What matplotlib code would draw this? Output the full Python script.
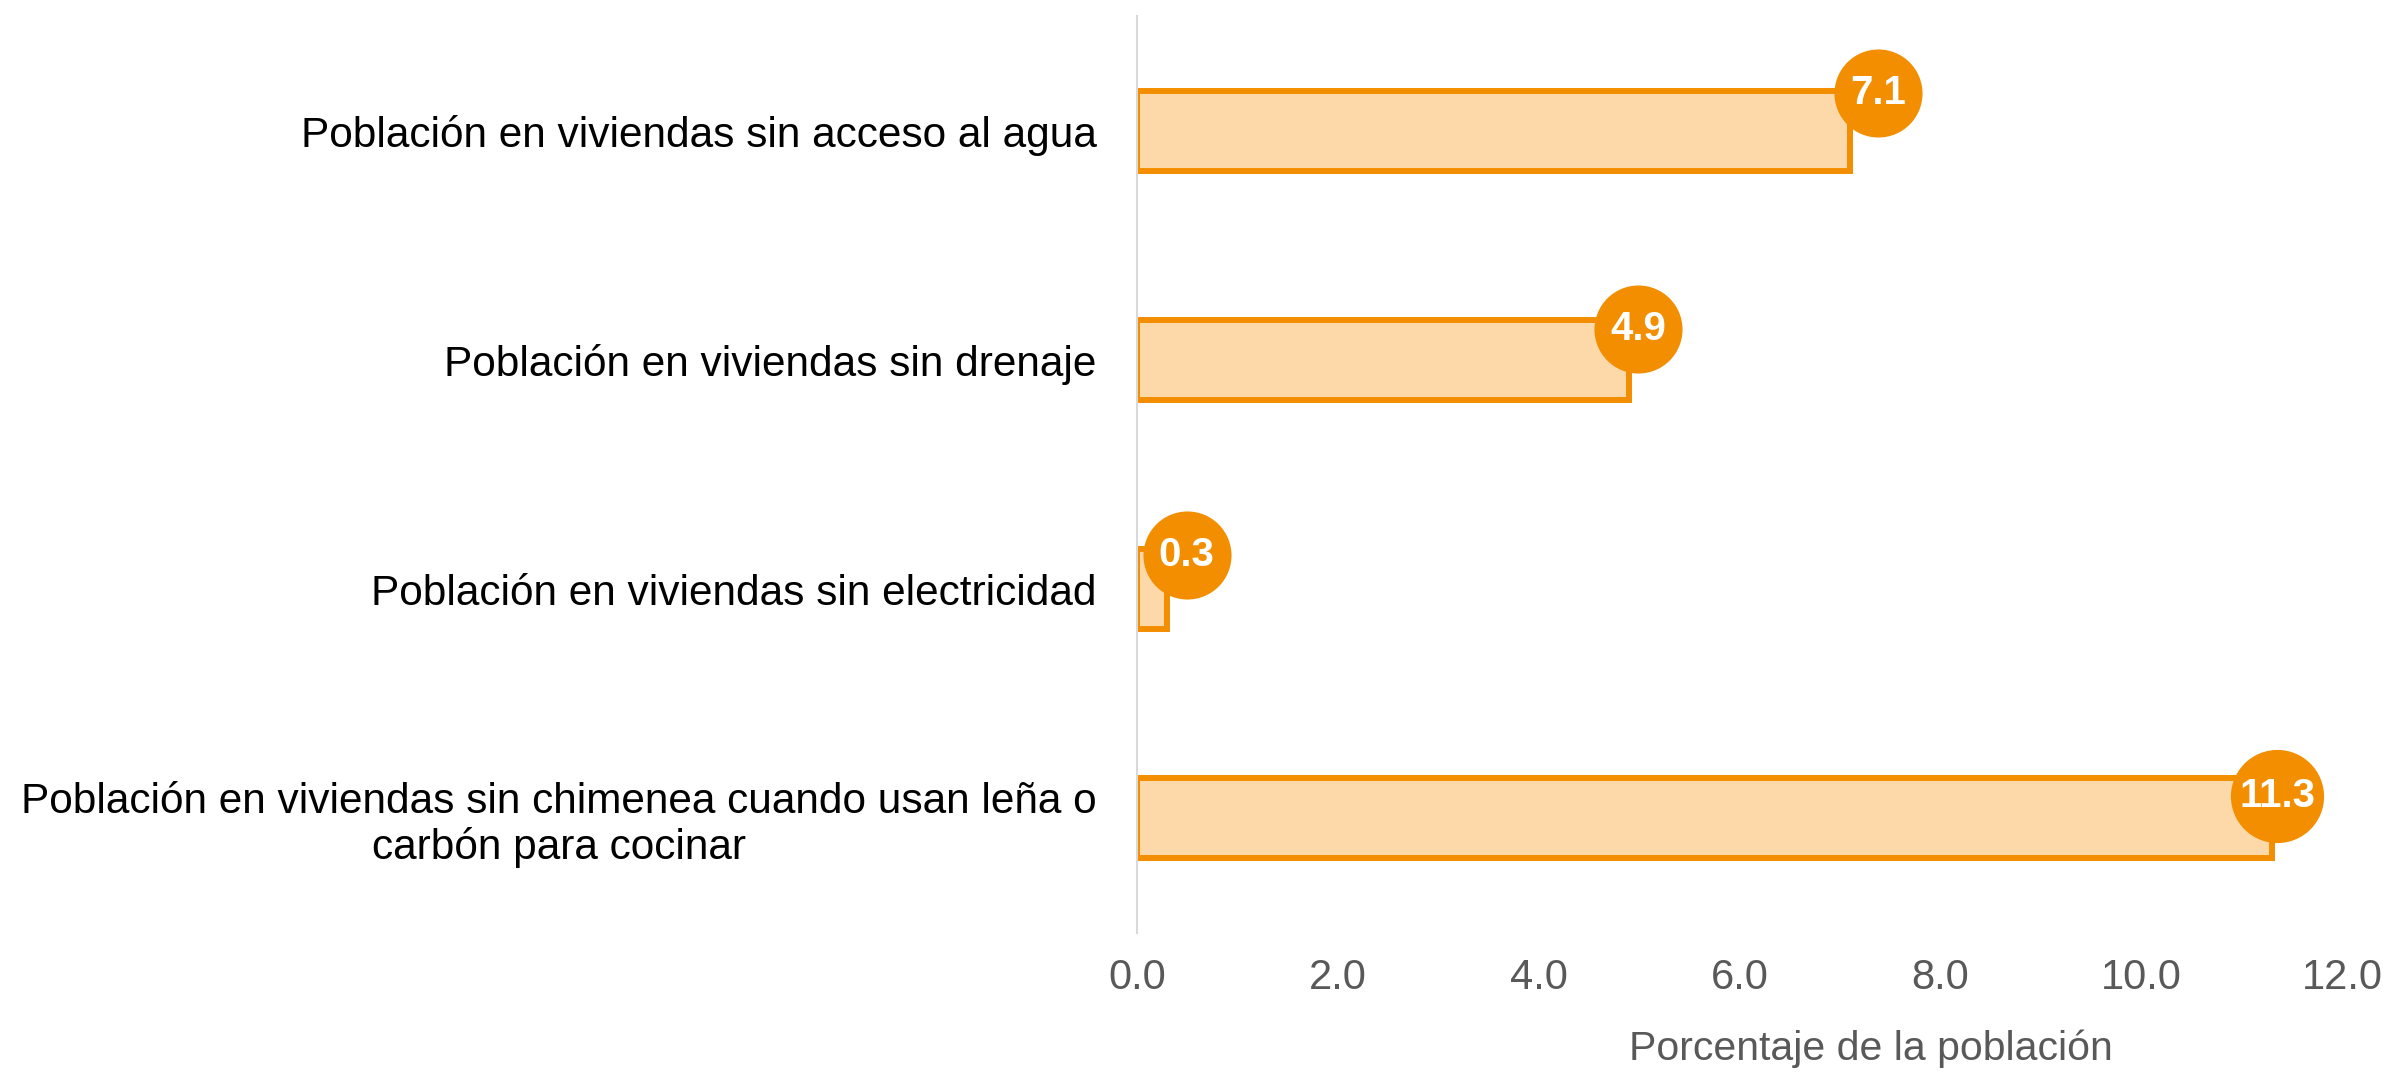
import matplotlib
matplotlib.use("Agg")
import matplotlib.pyplot as plt
from matplotlib.transforms import offset_copy

# Data (top to bottom as in the chart)
categories = [
    "Población en viviendas sin acceso al agua",
    "Población en viviendas sin drenaje",
    "Población en viviendas sin electricidad",
    "Población en viviendas sin chimenea cuando usan leña o\ncarbón para cocinar",
]
values = [7.1, 4.9, 0.3, 11.3]
x_ticks = [0.0, 2.0, 4.0, 6.0, 8.0, 10.0, 12.0]
x_title = "Porcentaje de la población"

# Label bubble offsets in points (dx, dy) relative to bar end, and bubble sizes
label_offsets = [(20, 27), (6.5, 22), (14, 24.5), (4, 16)]
bubble_sizes = [4020, 4020, 4020, 4500]

orange = "#F28E00"
fill = "#FDD8A8"
grey = "#595959"

plt.rcParams["font.family"] = ["Liberation Sans", "DejaVu Sans"]

fig = plt.figure(figsize=(23.83, 10.72), dpi=100)
ax = fig.add_axes([0.4771, 0.1297, 0.5057, 0.8553])

ypos = list(range(len(categories)))
ax.barh(ypos, values, height=0.35, color=fill, edgecolor=orange, linewidth=4.3, zorder=2)

for i, v in enumerate(values):
    dx, dy = label_offsets[i]
    tr = offset_copy(ax.transData, fig=fig, x=dx, y=dy, units="points")
    ax.scatter([v], [i], s=bubble_sizes[i], color=orange, transform=tr, zorder=4,
               clip_on=False, linewidths=0)
    ax.text(v, i, f"{v:.1f}", transform=tr, ha="center", va="center", fontsize=29,
            fontweight="bold", color="white", zorder=5, clip_on=False)

ax.set_xlim(0, 12)
ax.set_ylim(len(categories) - 0.5, -0.5)
ax.set_xticks(x_ticks)
ax.set_xticklabels([f"{t:.1f}" for t in x_ticks], fontsize=30, color=grey)
ax.set_yticks(ypos)
ax.set_yticklabels(categories, fontsize=30.5, color="black", multialignment="center",
                   linespacing=1.15)
ax.tick_params(axis="x", length=0, pad=18)
ax.tick_params(axis="y", length=0, pad=29)

for side in ["top", "right", "bottom"]:
    ax.spines[side].set_visible(False)
ax.spines["left"].set_color("#D9D9D9")
ax.spines["left"].set_linewidth(1.5)

ax.text(0.609, -0.1265, x_title, transform=ax.transAxes, ha="center", va="center",
        fontsize=29.5, color=grey)

fig.savefig("out.png", dpi=100)
